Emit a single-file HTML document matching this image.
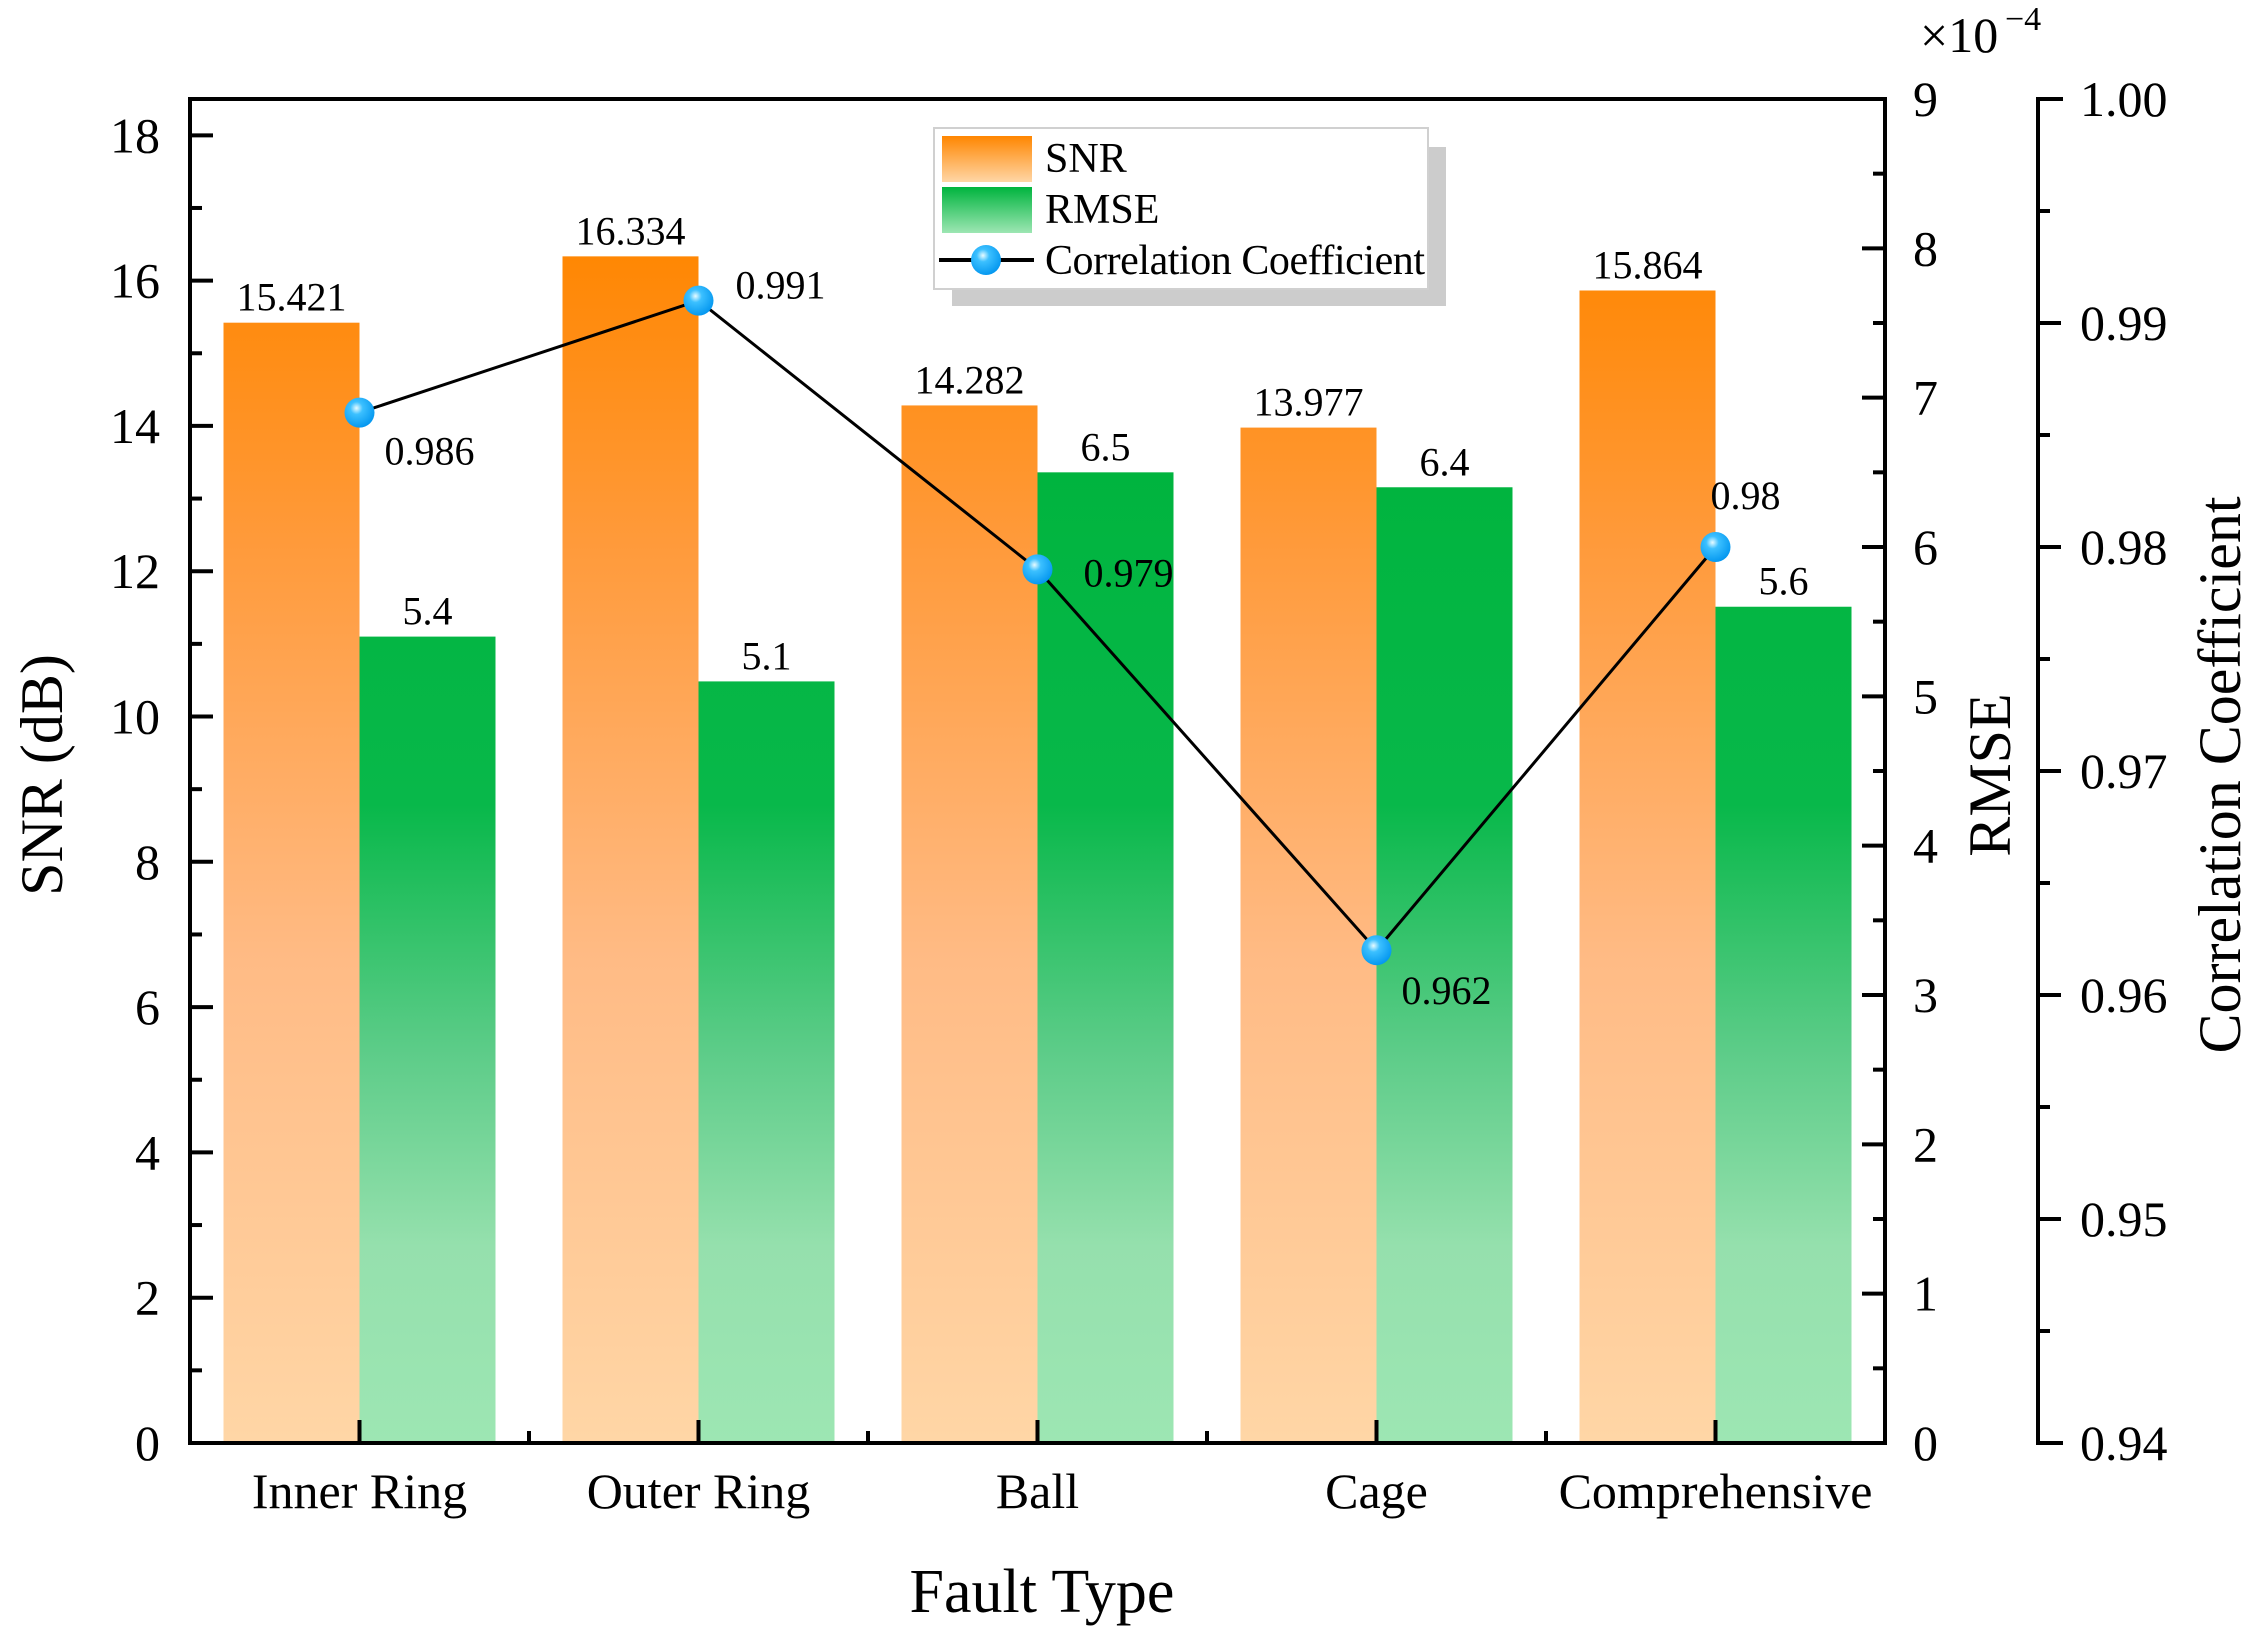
<!DOCTYPE html>
<html><head><meta charset="utf-8"><style>
html,body{margin:0;padding:0;background:#fff;}
svg text{font-family:"Liberation Serif",serif;fill:#000;}
</style></head><body>
<svg id="chart" xmlns="http://www.w3.org/2000/svg" width="2261" height="1644" viewBox="0 0 2261 1644">
<defs>
<linearGradient id="gOrange" gradientUnits="userSpaceOnUse" x1="0" y1="240" x2="0" y2="1443">
<stop offset="0" stop-color="#ff8600"/><stop offset="0.25" stop-color="#ff9a3a"/><stop offset="0.6" stop-color="#ffbb85"/><stop offset="1" stop-color="#ffd6a6"/>
</linearGradient>
<linearGradient id="gGreen" gradientUnits="userSpaceOnUse" x1="0" y1="460" x2="0" y2="1443">
<stop offset="0" stop-color="#00b43e"/><stop offset="0.35" stop-color="#08b84a"/><stop offset="0.6" stop-color="#5ccc88"/><stop offset="0.8" stop-color="#95e0ad"/><stop offset="1" stop-color="#9de6b3"/>
</linearGradient>
<radialGradient id="gBall" cx="0.4" cy="0.35" r="0.7">
<stop offset="0" stop-color="#e8fbff"/><stop offset="0.3" stop-color="#3cc0ff"/><stop offset="1" stop-color="#0094ee"/>
</radialGradient>
<linearGradient id="lgO" x1="0" y1="0" x2="0" y2="1"><stop offset="0" stop-color="#ff8600"/><stop offset="1" stop-color="#ffd6a6"/></linearGradient>
<linearGradient id="lgG" x1="0" y1="0" x2="0" y2="1"><stop offset="0" stop-color="#00b43e"/><stop offset="1" stop-color="#9de6b3"/></linearGradient>
</defs>
<g id="plot"></g>
</svg>
<script>
const categories = ["Inner Ring","Outer Ring","Ball","Cage","Comprehensive"];
const snrValues = [15.421,16.334,14.282,13.977,15.864];
const snrLabels = ["15.421","16.334","14.282","13.977","15.864"];
const rmseValues = [5.4,5.1,6.5,6.4,5.6];
const rmseLabels = ["5.4","5.1","6.5","6.4","5.6"];
const corrValues = [0.986,0.991,0.979,0.962,0.98];
const corrLabels = ["0.986","0.991","0.979","0.962","0.98"];
const snrTicks = [0,2,4,6,8,10,12,14,16,18];
const rmseTicks = [0,1,2,3,4,5,6,7,8,9];
const corrTicks = ["0.94","0.95","0.96","0.97","0.98","0.99","1.00"];

const NS="http://www.w3.org/2000/svg";
const g=document.getElementById('plot');
const L=190,R=1885,T=99,B=1443,C2=2038;
const catW=(R-L)/categories.length;
const ySNR=v=>B-(v/18.5)*(B-T);
const yRMSE=v=>B-(v/9)*(B-T);
const yCorr=v=>B-((v-0.94)/0.06)*(B-T);
const xC=i=>L+catW*(i+0.5);
const barW=136;
function el(tag,attrs,parent){const e=document.createElementNS(NS,tag);for(const k in attrs)e.setAttribute(k,attrs[k]);(parent||g).appendChild(e);return e;}
function txt(s,attrs){const e=el('text',attrs);e.textContent=s;return e;}

categories.forEach((c,i)=>{
  const yS=ySNR(snrValues[i]);
  const b1=el('rect',{x:xC(i)-barW,y:yS,width:barW,height:B-yS,fill:'url(#gOrange)'});
  
  
  const t1=txt(snrLabels[i],{x:xC(i)-barW/2,y:yS-12,'font-size':40,'text-anchor':'middle'});
  
  
  const yR=yRMSE(rmseValues[i]);
  const b2=el('rect',{x:xC(i),y:yR,width:barW,height:B-yR,fill:'url(#gGreen)'});
  
  
  const t2=txt(rmseLabels[i],{x:xC(i)+barW/2,y:yR-12,'font-size':40,'text-anchor':'middle'});
  
  
  const tc=txt(c,{x:xC(i),y:1508,'font-size':50,'text-anchor':'middle'});
  
  
});

const ax={stroke:'#000','stroke-width':4,fill:'none'};
const frame=el('path',Object.assign({d:`M${L},${T}H${R}V${B}H${L}Z`},ax));


const cax=el('path',Object.assign({d:`M${C2+25},${T}H${C2}V${B}H${C2+25}`},ax));



for(let v=0;v<=18;v++){const y=ySNR(v);el('line',{x1:L,x2:L+(v%2?12:23),y1:y,y2:y,stroke:'#000','stroke-width':4});}
snrTicks.forEach(v=>{const t=txt(String(v),{x:L-30,y:ySNR(v)+17,'font-size':50,'text-anchor':'end'});
  });
for(let v=0;v<=18;v++){const y=yRMSE(v/2);el('line',{x1:R,x2:R-(v%2?12:23),y1:y,y2:y,stroke:'#000','stroke-width':4});}
rmseTicks.forEach(v=>{const t=txt(String(v),{x:1913,y:yRMSE(v)+17,'font-size':50});
  });
for(let k=0;k<=12;k++){const y=yCorr(0.94+k*0.005);el('line',{x1:C2,x2:C2+(k%2?12:23),y1:y,y2:y,stroke:'#000','stroke-width':4});}
corrTicks.forEach(s=>{const t=txt(s,{x:2080,y:yCorr(parseFloat(s))+17,'font-size':50});
  });
for(let k=0;k<=categories.length*2;k++){const x=L+k*catW/2;el('line',{x1:x,x2:x,y1:B,y2:B-(k%2?23:12),stroke:'#000','stroke-width':4});}

const pts=corrValues.map((v,i)=>xC(i)+','+yCorr(v)).join(' ');
const pl=el('polyline',{points:pts,fill:'none',stroke:'#000','stroke-width':3});


const offs=[[70,52],[82,-2],[91,17],[70,54],[30,-38]];
corrValues.forEach((v,i)=>{
  const c=el('circle',{cx:xC(i),cy:yCorr(v),r:15,fill:'url(#gBall)'});
  
  
  const t=txt(corrLabels[i],{x:xC(i)+offs[i][0],y:yCorr(v)+offs[i][1],'font-size':40,'text-anchor':'middle'});
  
  
});

const lg=el('g',{});


el('rect',{x:952,y:147,width:494,height:159,fill:'#cccccc'},lg);
el('rect',{x:934,y:128,width:494,height:161,fill:'#fff',stroke:'#d0d0d0','stroke-width':2},lg);
el('rect',{x:942,y:136,width:90,height:46,fill:'url(#lgO)'},lg);
el('rect',{x:942,y:187,width:90,height:46,fill:'url(#lgG)'},lg);
el('line',{x1:939,x2:1034,y1:260,y2:260,stroke:'#000','stroke-width':4},lg);
el('circle',{cx:986,cy:260,r:15,fill:'url(#gBall)'},lg);
[["SNR",172],["RMSE",223],["Correlation Coefficient",274]].forEach(a=>{const t=el('text',{x:1045,y:a[1],'font-size':42,textLength:a[0].length>5?380:null},lg);t.textContent=a[0];
  });

const t1=txt('SNR (dB)',{x:0,y:0,'font-size':60,'text-anchor':'middle',transform:'translate(62,775) rotate(-90)'});

const t2=txt('RMSE',{x:0,y:0,'font-size':60,'text-anchor':'middle',transform:'translate(2010,775) rotate(-90)'});

const t3=txt('Correlation Coefficient',{x:0,y:0,'font-size':60,'text-anchor':'middle',transform:'translate(2240,775) rotate(-90)'});

const t4=txt('Fault Type',{x:1042,y:1612,'font-size':62,'text-anchor':'middle'});

const t5=txt('×10',{x:1920,y:52,'font-size':50});

const t6=txt('−4',{x:2005,y:30,'font-size':34});

</script>
</body></html>
